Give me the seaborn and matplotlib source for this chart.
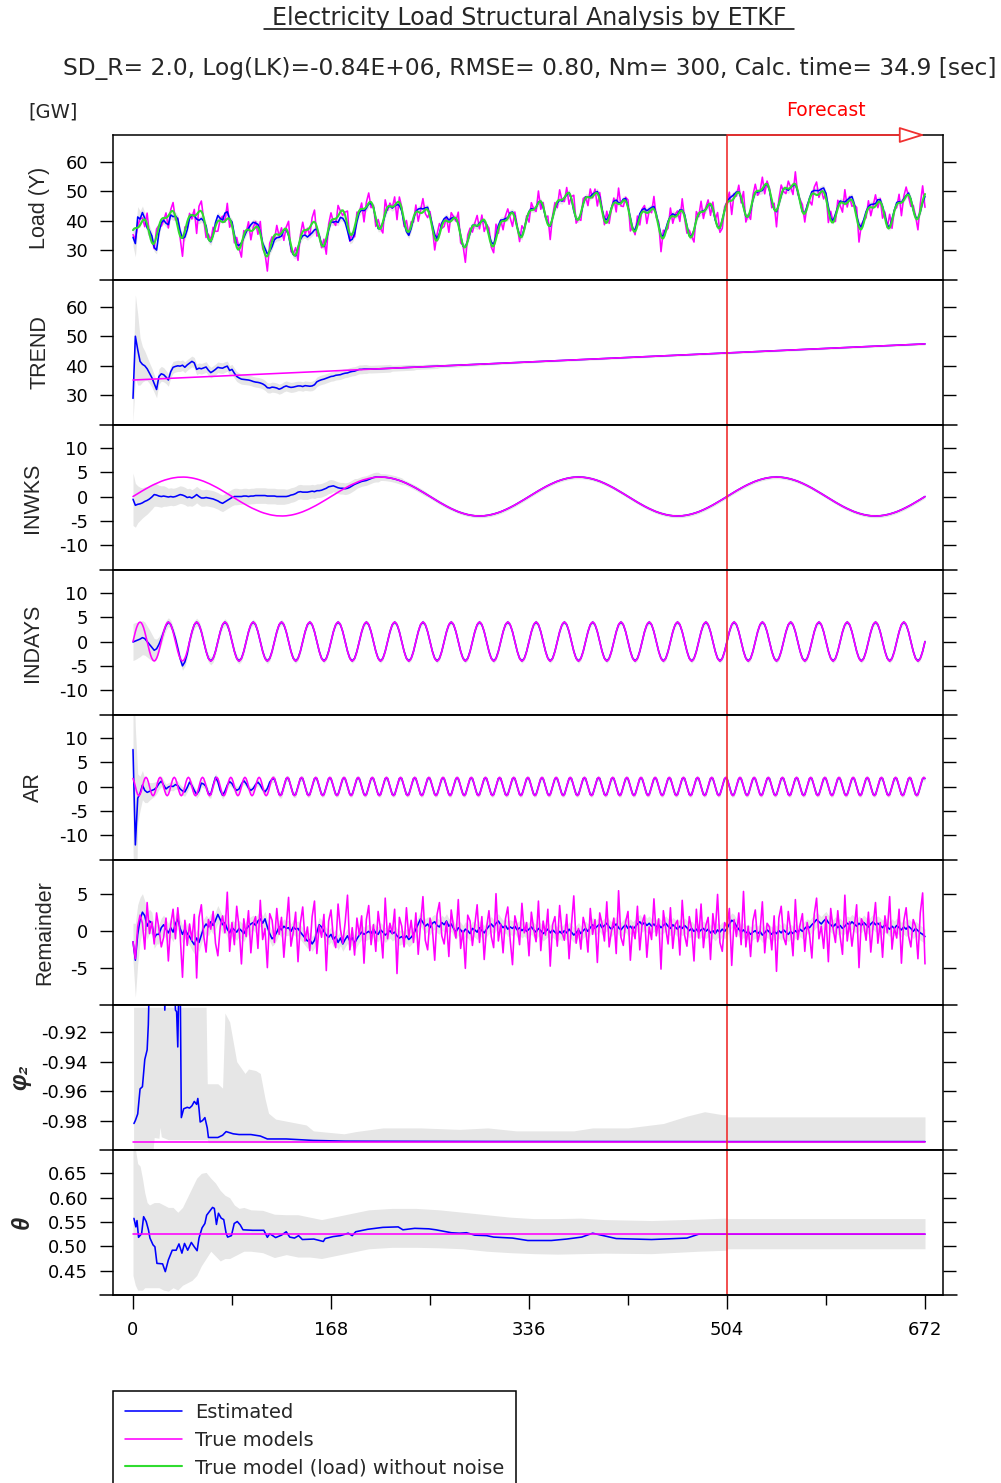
import numpy as np
import matplotlib
matplotlib.use("Agg")
import matplotlib.pyplot as plt
import matplotlib.transforms as mtransforms
from matplotlib.lines import Line2D
import seaborn as sns

# ------------------------------------------------------------------
# Data (hours 0..672, forecast from hour 504)
# ------------------------------------------------------------------
N_HOURS = 672
FORECAST_START = 504
X_TICKS = [0, 168, 336, 504, 672]
X_MINOR_TICKS = [84, 252, 420, 588]

# true model components
TREND_TRUE_START = 35.2
TREND_TRUE_END = 47.4
WEEKLY_TRUE_PERIOD = [
    0.00, 0.15, 0.30, 0.45, 0.60, 0.74, 0.89, 1.04, 1.18, 1.32, 1.46, 1.60, 1.74, 1.87, 2.00, 2.13,
    2.25, 2.38, 2.49, 2.61, 2.72, 2.83, 2.93, 3.03, 3.13, 3.22, 3.30, 3.39, 3.46, 3.54, 3.60, 3.67,
    3.72, 3.78, 3.82, 3.86, 3.90, 3.93, 3.96, 3.97, 3.99, 4.00, 4.00,
    4.00, 3.99, 3.97, 3.96, 3.93, 3.90, 3.86, 3.82, 3.78, 3.72, 3.67, 3.60, 3.54, 3.46, 3.39, 3.30,
    3.22, 3.13, 3.03, 2.93, 2.83, 2.72, 2.61, 2.49, 2.38, 2.25, 2.13, 2.00, 1.87, 1.74, 1.60, 1.46,
    1.32, 1.18, 1.04, 0.89, 0.74, 0.60, 0.45, 0.30, 0.15,
    0.00, -0.15, -0.30, -0.45, -0.60, -0.74, -0.89, -1.04, -1.18, -1.32, -1.46, -1.60, -1.74, -1.87, -2.00, -2.13,
    -2.25, -2.38, -2.49, -2.61, -2.72, -2.83, -2.93, -3.03, -3.13, -3.22, -3.30, -3.39, -3.46, -3.54, -3.60, -3.67,
    -3.72, -3.78, -3.82, -3.86, -3.90, -3.93, -3.96, -3.97, -3.99, -4.00, -4.00,
    -4.00, -3.99, -3.97, -3.96, -3.93, -3.90, -3.86, -3.82, -3.78, -3.72, -3.67, -3.60, -3.54, -3.46, -3.39, -3.30,
    -3.22, -3.13, -3.03, -2.93, -2.83, -2.72, -2.61, -2.49, -2.38, -2.25, -2.13, -2.00, -1.87, -1.74, -1.60, -1.46,
    -1.32, -1.18, -1.04, -0.89, -0.74, -0.60, -0.45, -0.30, -0.15,
]
DAILY_TRUE_PERIOD = [0.00, 1.04, 2.00, 2.83, 3.46, 3.86, 4.00, 3.86, 3.46, 2.83, 2.00, 1.04,
                     0.00, -1.04, -2.00, -2.83, -3.46, -3.86, -4.00, -3.86, -3.46, -2.83, -2.00, -1.04]
AR_TRUE_PERIOD = [1.65, 0.95, 0.00, -0.95, -1.65, -1.90, -1.65, -0.95, 0.00, 0.95, 1.65, 1.90]

# observation noise (true remainder), every 2 hours
REMAINDER_TRUE = [
    -1.5, -3.8, 0.6, 2.1, 1.0, -2.5, 3.8, -0.4, 1.2, -1.8, 2.4, 0.3, -2.2, -0.9, 1.7, -4.1, 0.8, 2.9, -1.1, 3.1, -0.6, -6.3, 1.4, -2.0,
    0.9, -1.3, 2.2, -6.4, 1.8, 3.5, -0.7, -2.9, 1.5, 0.2, 2.6, -1.7, -3.4, 0.5, 2.0, -0.3, 5.2, -2.8, 1.1, -1.9, 3.3, 0.4, -4.5, 1.6,
    -0.8, 2.7, -3.0, 0.9, 1.9, -2.4, 4.1, -1.2, 0.3, -5.0, 2.3, 1.4, -1.6, 3.0, -0.5, 1.8, -3.6, 0.6, 4.5, -2.1, -0.2, 2.5, -4.2, 1.0,
    3.2, -1.4, 0.5, -2.7, 1.9, 4.0, -3.1, 0.7, -0.9, 2.2, -5.4, 1.3, 2.8, -1.0, -2.3, 3.6, 0.2, -1.7, 1.1, 4.8, -2.6, 0.4, -3.3, 1.7,
    -0.6, 2.0, -4.4, 1.5, 3.4, -1.9, 0.8, -2.8, 2.6, 0.1, -3.7, 4.4, -1.1, 1.0, -0.4, 2.9, -5.8, 1.8, 0.6, -2.2, 3.1, -0.9, 1.4, -1.6,
    2.4, -3.2, 0.9, 4.6, -1.3, -2.6, 1.7, 0.3, -4.0, 2.2, 3.8, -0.7, -1.8, 1.2, -3.5, 2.8, 0.5, -1.0, 4.2, -2.4, 0.0, -5.1, 2.1, 1.3,
    -2.0, 0.7, 3.5, -1.6, 1.9, -3.9, 0.4, 2.7, -0.8, -2.3, 5.0, -1.4, 0.9, -3.0, 1.6, 3.2, -1.2, -4.6, 2.0, 0.6, -1.9, 3.7, -0.3, 1.1,
    -3.4, 2.5, 0.2, -1.5, 4.0, -2.7, 1.3, -0.6, 2.9, -4.8, 0.8, 1.9, -2.1, 3.4, -0.2, -1.3, 2.2, -3.8, 0.7, 4.7, -1.7, 0.3, -2.5, 1.8,
    0.4, -2.9, 3.0, -0.5, 1.5, -4.3, 2.4, 0.9, -1.4, 3.9, -2.2, 0.0, 1.7, -3.1, 5.4, -0.9, -2.0, 1.2, 2.6, -4.0, 0.6, -1.1, 3.3, -2.6,
    1.0, 2.1, -3.6, 0.5, -1.2, 4.3, -0.7, 1.6, -5.2, 2.7, 0.3, -1.8, 3.1, -2.4, 0.8, 1.4, -3.3, 4.1, -0.6, -2.1, 1.9, 0.2, -4.1, 2.9,
    -1.0, 3.6, -2.3, 0.7, 1.8, -3.9, 2.3, -0.4, 4.9, -1.6, -2.8, 1.1, 0.4, 3.0, -4.7, 1.5, -0.8, 2.4, -1.9, 5.3, -2.2, 0.6, -3.5, 1.3,
    2.8, -1.5, -0.2, 3.9, -3.0, 1.0, 0.5, -2.6, 2.0, -5.5, 1.7, 3.3, -0.9, -1.9, 2.6, 0.1, -3.4, 4.2, -1.2, 0.8, 2.3, -2.8, 1.1, -0.5,
    -3.7, 2.2, 4.4, -1.1, 0.6, -2.4, 1.9, -4.2, 3.0, 0.3, -1.6, 2.7, -0.8, -3.2, 4.8, -1.4, 1.2, -2.1, 0.5, 3.5, -5.0, 1.6, 0.9, -1.3,
    2.5, -2.9, 0.7, 3.8, -1.7, 1.1, -3.6, 2.0, -0.3, 4.6, -2.5, 0.4, -1.0, 2.9, -4.4, 1.3, 3.1, -0.7, -2.2, 1.5, 0.6, -3.8, 2.4, 5.1,
    -4.5,
]

# estimated components (2-hour grid); early, non-converged parts
TREND_EST_EARLY = [
    29.0, 50.0, 45.5, 41.5, 40.5, 40.0, 39.0, 37.5, 36.0, 34.0, 32.0, 36.4,
    37.3, 37.0, 36.2, 35.2, 38.0, 39.5, 39.8, 40.0, 39.9, 40.2, 39.5, 40.3,
    40.9, 41.5, 41.0, 38.8, 39.2, 39.0, 39.3, 39.6, 38.5, 37.7, 38.2, 38.8,
    39.5, 39.3, 39.2, 39.6, 39.9, 38.4, 38.8, 37.5, 36.4, 35.9, 35.5, 35.4,
    35.3, 35.2, 35.0, 34.7, 34.5, 34.4, 34.2, 33.9, 33.4, 32.6, 32.5, 32.8,
    32.7, 32.5, 32.1, 32.4, 32.9, 33.2, 32.9, 32.7, 32.8, 33.0, 33.2, 33.2,
    33.0, 33.3, 33.2, 33.1, 33.2, 33.6, 34.6, 35.0, 35.3, 35.5, 35.8, 36.1,
    36.4, 36.5, 36.8, 36.9, 37.0, 37.3, 37.5, 37.6, 37.9, 38.1, 38.2, 38.5,
    38.8, 38.8, 38.9, 38.9, 38.9,
]
WEEKLY_EST_EARLY = [
    -0.55, -1.8, -1.6, -1.5, -1.3, -1.0, -0.8, -0.5, -0.1, 0.4, 0.3, 0.1,
    0.0, 0.1, 0.0, -0.1, 0.0, -0.1, 0.0, 0.2, 0.4, 0.3, 0.1, -0.2,
    -0.1, -0.3, 0.0, 0.4, 0.0, -0.3, -0.3, -0.2, -0.3, -0.4, -0.5, -0.7,
    -0.9, -1.2, -1.4, -1.1, -0.8, -0.5, -0.2, 0.0, 0.0, 0.0, 0.0, 0.1,
    0.1, 0.0, 0.1, 0.1, 0.2, 0.2, 0.2, 0.2, 0.2, 0.1, 0.1, 0.1,
    0.1, 0.0, 0.0, 0.0, 0.0, 0.0, 0.1, 0.3, 0.4, 0.6, 0.9, 1.0,
    0.9, 0.9, 0.9, 1.0, 1.1, 1.0, 1.2, 1.2, 1.3, 1.5, 1.7, 2.0,
    2.1, 2.2, 2.0, 1.8, 1.7, 1.7, 1.6, 1.7, 1.9, 2.2, 2.5, 2.7,
    2.9, 3.1, 3.2, 3.3, 3.5, 3.7, 3.9, 4.0,
]
DAILY_EST_EARLY = [-0.1, 0.1, 0.3, 0.5, 0.8, 0.6, 0.0, -0.6, -1.2, -1.8, -1.5, -0.6,
                   0.6, 2.0, 3.3, 4.0, 3.5, 2.2, 0.6, -1.4, -3.5, -5.0, -4.2, -2.5, 0.0]
AR_EST_EARLY = [
    7.6, -12.0, -2.4, -1.4, 0.3, -0.8, -1.2, -1.0, -0.8, -0.6, -0.2, 0.6,
    1.1, 0.3, -0.5, -0.1, 0.1, 0.0, 0.4, 0.2, -0.5, -0.9, -1.1, -0.2,
    0.9, 0.2, -0.8, -1.6, -0.9, 0.7, 0.5, 0.0, -1.5, -1.6, 0.3, 1.9,
    1.0, -0.8, -1.8, -1.0, 0.3, 1.0, 0.6, -0.3, -0.8, -0.5, 0.5, 1.2,
    0.6, -0.3, -0.8, -0.4, 0.4, 0.9, 0.3, -0.6, -1.1, -0.4, 0.9, 1.5,
    1.6,
]
REMAINDER_EST = [
    -1.5, -4.0, -0.5, 1.5, 2.5, 2.0, 0.6, 1.3, 1.0, -1.0, -0.5, -0.5,
    0.4, 0.8, 0.2, -0.3, 0.4, -0.2, 0.9, 1.6, 0.3, -0.5, 0.2, -0.4,
    -0.8, -1.4, -1.9, -1.0, -1.6, -0.6, 0.4, 0.9, 0.5, 1.2, 0.7, 1.4,
    2.2, 1.5, 0.8, 1.1, 0.2, -0.3, 0.4, 0.1, -0.2, 0.3, 0.0, -0.4,
    0.2, 0.6, 0.9, 1.1, 0.7, 1.3, 1.6, 1.0, 1.6, 0.5, -0.4, -1.1,
    -0.8, -0.2, 0.5, 0.1, 0.6, 0.3, 0.4, -0.1, 0.5, 0.2, 0.3, -0.2,
    -0.6, -1.0, -1.4, -1.2, -1.8, -1.3, -0.2, 0.8, 0.5, -0.1, -0.6, -0.9,
    -0.5, -1.2, -0.8, -1.6, -1.0, -1.8, -1.2, -0.7, -1.4, -0.9, -1.7, -1.1,
    -0.6, -0.2, -0.5, -0.3, -0.1, -0.4, 0.2, -0.3, -0.5, 0.1, -0.2, -0.6,
    -0.3, 0.0, -0.4, -0.2, -0.7, -1.0, -0.8, -1.1, -0.7, -1.2, -0.9, -0.5,
    0.2, 0.9, 1.6, 1.1, 0.6, 0.9, 0.4, 1.0, 1.2, 0.7, 0.5, 1.1,
    0.8, 1.3, 0.6, 0.9, 0.3, -0.2, 0.4, 0.1, -0.3, 0.2, 0.0, -0.4,
    0.3, 0.1, -0.2, 0.4, 0.0, -0.3, 0.2, 0.6, 0.9, 0.5, 1.0, 1.3,
    0.8, 0.4, 0.7, 0.2, 0.5, 0.3, 0.6, 0.1, 0.4, 0.0, 0.3, -0.1,
    0.2, 0.5, 0.1, -0.2, 0.3, 0.0, -0.4, -0.1, 0.2, -0.3, 0.1, -0.2,
    -0.5, -0.1, -0.4, 0.0, -0.3, 0.2, -0.2, -0.6, -0.3, 0.1, -0.4, 0.0,
    0.3, -0.1, 0.4, 0.8, 0.3, 0.6, 0.9, 0.4, 0.7, 1.0, 0.5, 0.2,
    0.6, 0.9, 0.4, 0.1, 0.5, 0.8, 0.3, 0.6, 0.2, 0.5, 0.9, 1.2,
    0.8, 1.1, 0.7, 1.0, 0.6, 0.9, 0.5, 0.8, 0.4, 0.7, 1.0, 0.6,
    0.3, 0.8, 0.5, 0.2, 0.6, 0.3, 0.7, 0.4, 0.0, 0.3, -0.1, 0.2,
    -0.2, 0.1, 0.3, -0.1, 0.2, -0.3, 0.0, -0.4, 0.1, -0.2, 0.2, -0.1,
    0.3, 0.9, 1.4, 1.2, 0.6, 0.2, -0.2, 0.1, -0.3, -0.1, -0.5, -0.2,
    0.0, -0.4, -0.1, -0.6, -0.3, 0.1, -0.2, -0.5, -0.1, -0.4, 0.0, -0.3,
    0.1, -0.2, -0.5, -0.1, -0.4, 0.0, -0.3, 0.2, -0.1, 0.3, 0.6, 0.4,
    0.8, 1.1, 1.5, 1.2, 0.9, 1.3, 1.6, 1.1, 0.8, 0.5, 0.9, 0.4,
    0.7, 0.3, 0.6, 1.0, 0.8, 1.2, 0.9, 0.6, 1.0, 0.7, 1.1, 0.8,
    0.5, 0.9, 1.2, 0.8, 1.0, 0.7, 0.4, 0.8, 0.5, 0.2, 0.6, 0.3,
    0.7, 0.4, 0.1, 0.5, 0.2, 0.6, 0.3, -0.1, 0.3, 0.0, -0.3, -0.5,
    -0.8,
]

# half-widths of the grey uncertainty bands: first values every 2 h, then levels held for 20 h
LOAD_BAND_EARLY = [3.0, 4.5, 3.5, 2.8, 2.2, 2.0, 1.8, 1.6, 1.5, 1.4]
LOAD_BAND_LEVELS = [1.3, 1.2, 1.2, 1.1]
TREND_BAND_EARLY = [8.0, 14.0, 12.0, 8.0, 6.0, 5.0, 4.0, 3.5, 3.2, 3.0, 2.8, 2.6, 2.5, 2.4, 2.2, 2.1, 2.0, 2.0, 1.9, 1.9]
TREND_BAND_LEVELS = [1.8, 1.8, 1.7, 1.7, 1.7, 1.6, 1.6, 1.5, 1.3, 1.0, 0.8, 0.6, 0.5, 0.4, 0.35]
WEEKLY_BAND_EARLY = [5.4, 4.5, 3.8, 3.4, 3.1, 3.0, 2.8, 2.6, 2.5, 2.4, 2.3, 2.2, 2.2, 2.1, 2.0]
WEEKLY_BAND_LEVELS = [1.8, 1.7, 1.7, 1.6, 1.6, 1.5, 1.4, 1.2, 1.0, 0.7, 0.5, 0.4, 0.35]
DAILY_BAND_EARLY = [3.8, 3.8, 3.7, 3.6, 3.5, 3.4, 3.2, 3.0, 2.7, 2.4, 2.0, 1.6, 1.3, 1.1, 1.0]
DAILY_BAND_LEVELS = [0.9, 0.8, 0.7, 0.6, 0.55, 0.5, 0.45]
AR_BAND_EARLY = [20.0, 24.0, 5.0, 3.5, 3.0, 2.5, 2.1, 1.8, 1.6, 1.5, 1.3, 1.2, 1.1, 1.0, 1.0]
AR_BAND_LEVELS = [0.9, 0.8, 0.8, 0.7, 0.7, 0.6, 0.5]
REM_BAND_EARLY = [2.5, 5.0, 4.0, 3.0, 2.5, 2.0, 1.8, 1.6, 1.5, 1.4]
REM_BAND_LEVELS = [1.3, 1.2, 1.2, 1.1, 1.0]

# parameter estimates: (hour, value) and (hour, lower, upper)
PHI2_TRUE = -0.9945
PHI2_EST = [(0.8, -0.982), (2, -0.980), (4, -0.9755), (6, -0.9585), (8, -0.957), (10, -0.9385), (12, -0.932),
            (13, -0.915), (14, -0.88), (20, -0.87), (26, -0.88), (27, -0.905), (28, -0.88), (35, -0.88),
            (36, -0.905), (37, -0.906), (38, -0.93), (39, -0.88), (40, -0.88), (41, -0.978), (43, -0.972),
            (46, -0.971), (48, -0.9715), (50, -0.970), (52, -0.967), (54, -0.969), (55, -0.965), (56, -0.972),
            (57, -0.981), (59, -0.980), (61, -0.978), (63, -0.985), (64, -0.9915), (72, -0.9915), (76, -0.990),
            (79, -0.9875), (81, -0.988), (85, -0.989), (90, -0.9895), (100, -0.9895), (108, -0.9905),
            (114, -0.9925), (130, -0.9925), (153, -0.9935), (180, -0.994), (300, -0.9942), (504, -0.9943),
            (672, -0.9943)]
PHI2_BAND = [(0.5, -1.0, -0.903), (17, -1.0, -0.903), (18, -0.9915, -0.903), (22, -0.992, -0.903),
             (23, -0.9845, -0.903), (24, -0.991, -0.903), (30, -0.993, -0.903), (62, -0.993, -0.903),
             (63, -0.993, -0.955), (64, -0.995, -0.955), (72, -0.995, -0.955), (76, -0.995, -0.958),
             (78, -0.995, -0.907), (80, -0.995, -0.910), (82, -0.995, -0.913), (88, -0.995, -0.94),
             (95, -0.995, -0.948), (98, -0.995, -0.945), (104, -0.995, -0.946), (108, -0.995, -0.948),
             (112, -0.995, -0.965), (115, -0.995, -0.975), (121, -0.995, -0.979), (134, -0.995, -0.981),
             (147, -0.995, -0.983), (153, -0.995, -0.987), (179, -0.995, -0.989), (189, -0.995, -0.9875),
             (212, -0.995, -0.985), (244, -0.995, -0.985), (277, -0.995, -0.986), (301, -0.995, -0.985),
             (325, -0.995, -0.987), (374, -0.995, -0.987), (390, -0.995, -0.985), (420, -0.995, -0.985),
             (450, -0.995, -0.982), (470, -0.995, -0.977), (485, -0.995, -0.974), (500, -0.995, -0.976),
             (503.9, -0.995, -0.976), (504, -0.995, -0.9775), (672, -0.995, -0.9775)]

THETA_TRUE = 0.525
THETA_EST = [(0.8, 0.5575), (2.4, 0.540), (3.4, 0.553), (4.7, 0.5185), (7.3, 0.526), (9, 0.561), (11.2, 0.551),
             (13.1, 0.534), (14.4, 0.517), (17, 0.503), (18.6, 0.499), (20.3, 0.465), (25.1, 0.464), (27.4, 0.448),
             (30, 0.472), (33.3, 0.492), (36.6, 0.492), (39, 0.505), (41.5, 0.486), (43.7, 0.506), (46.4, 0.492),
             (49.5, 0.508), (52, 0.499), (54.4, 0.491), (56, 0.517), (58.6, 0.538), (61, 0.547), (62.5, 0.564),
             (65, 0.572), (67.5, 0.580), (69, 0.578), (70.8, 0.545), (72.5, 0.568), (74.8, 0.558), (77, 0.555),
             (79, 0.527), (80.3, 0.519), (83.5, 0.522), (85.9, 0.547), (88.5, 0.551), (91, 0.544), (93.3, 0.534),
             (101.5, 0.533), (111, 0.533), (114, 0.5185), (116, 0.526), (121, 0.518), (126, 0.523), (130, 0.530),
             (133, 0.519), (137, 0.517), (140.5, 0.522), (143.7, 0.514), (153.4, 0.515), (161.5, 0.510),
             (163, 0.516), (169.7, 0.520), (175.9, 0.522), (182.6, 0.527), (186, 0.522), (189, 0.530),
             (199, 0.535), (212, 0.539), (225, 0.540), (229, 0.534), (239, 0.537), (251, 0.536), (257, 0.534),
             (270, 0.528), (277, 0.527), (283, 0.528), (290, 0.523), (300, 0.522), (306, 0.519), (322, 0.517),
             (335, 0.512), (355, 0.512), (368, 0.515), (380.7, 0.519), (390, 0.527), (410, 0.516), (440, 0.514),
             (470, 0.517), (480, 0.525), (504, 0.525), (672, 0.525)]
THETA_BAND = [(0, 0.44, 0.70), (2, 0.42, 0.70), (4, 0.41, 0.67), (6, 0.41, 0.665), (8, 0.41, 0.64),
              (10, 0.415, 0.61), (12, 0.415, 0.59), (14, 0.415, 0.585), (18, 0.415, 0.59), (22, 0.415, 0.59),
              (26, 0.41, 0.585), (30, 0.408, 0.58), (34, 0.415, 0.58), (38, 0.41, 0.57), (42, 0.42, 0.58),
              (46, 0.425, 0.60), (50, 0.43, 0.62), (54, 0.44, 0.64), (58, 0.46, 0.65), (62, 0.475, 0.652),
              (66, 0.49, 0.64), (70, 0.48, 0.63), (74, 0.47, 0.615), (78, 0.475, 0.605), (82, 0.475, 0.60),
              (86, 0.48, 0.585), (90, 0.485, 0.578), (94, 0.49, 0.58), (100, 0.49, 0.575), (110, 0.487, 0.574),
              (120, 0.477, 0.566), (130, 0.483, 0.565), (140, 0.478, 0.565), (150, 0.478, 0.56),
              (160, 0.475, 0.555), (170, 0.48, 0.56), (180, 0.485, 0.565), (190, 0.49, 0.57), (200, 0.495, 0.575),
              (220, 0.498, 0.578), (240, 0.498, 0.578), (260, 0.497, 0.575), (280, 0.495, 0.57),
              (300, 0.49, 0.565), (320, 0.487, 0.56), (340, 0.485, 0.557), (360, 0.484, 0.557),
              (380, 0.485, 0.558), (400, 0.486, 0.555), (440, 0.485, 0.553), (480, 0.49, 0.556),
              (503.9, 0.492, 0.558), (504, 0.495, 0.557), (672, 0.495, 0.557)]

PANEL_LABELS = ["Load (Y)", "TREND", "INWKS", "INDAYS", "AR", "Remainder", "φ\u2082", "θ"]
PANEL_YTICKS = [[30, 40, 50, 60], [30, 40, 50, 60], [-10, -5, 0, 5, 10], [-10, -5, 0, 5, 10],
                [-10, -5, 0, 5, 10], [-5, 0, 5], [-0.98, -0.96, -0.94, -0.92], [0.45, 0.50, 0.55, 0.60, 0.65]]
PANEL_YLIMS = [(20, 69), (20, 69), (-15.1, 14.7), (-15.1, 14.7), (-15.1, 14.7), (-10.05, 9.55),
               (-1.0, -0.9015), (0.400, 0.698)]
LEGEND_LABELS = ["Estimated", "True models", "True model (load) without noise"]

TITLE = "Electricity Load Structural Analysis by ETKF"
SUBTITLE = "SD_R= 2.0, Log(LK)=-0.84E+06, RMSE= 0.80, Nm= 300, Calc. time= 34.9 [sec]"

# ------------------------------------------------------------------
# Build series
# ------------------------------------------------------------------
hours = np.arange(N_HOURS + 1)
h2 = hours[::2]
n2 = len(h2)

trend_true = TREND_TRUE_START + (TREND_TRUE_END - TREND_TRUE_START) * hours / N_HOURS
weekly_true = np.resize(np.array(WEEKLY_TRUE_PERIOD), hours.size)
daily_true = np.resize(np.array(DAILY_TRUE_PERIOD), hours.size)
ar_true = np.resize(np.array(AR_TRUE_PERIOD), hours.size)
load_clean = trend_true + weekly_true + daily_true + ar_true
rem_true = np.array(REMAINDER_TRUE)
load_obs = load_clean[::2] + rem_true


def with_early(early, true_full):
    early = np.asarray(early, float)
    return np.concatenate([early, true_full[::2][len(early):]])


trend_est = with_early(TREND_EST_EARLY, trend_true)
weekly_est = with_early(WEEKLY_EST_EARLY, weekly_true)
daily_est = with_early(DAILY_EST_EARLY, daily_true)
ar_est = with_early(AR_EST_EARLY, ar_true)
rem_est = np.array(REMAINDER_EST)
load_est = trend_est + weekly_est + daily_est + ar_est + rem_est


def half_width(early, levels, hold=10, n=n2):
    w = np.concatenate([np.asarray(early, float), np.repeat(np.asarray(levels, float), hold)])
    if len(w) < n:
        w = np.concatenate([w, np.full(n - len(w), w[-1])])
    return w[:n]


# ------------------------------------------------------------------
# Figure
# ------------------------------------------------------------------
BLUE = "#0000ff"
MAGENTA = "#ff00ff"
GREEN = "#30dc30"
BAND = "#e6e6e6"
RED = "#f03030"

sns.set_theme(style="white")
plt.rcParams["font.family"] = ["DejaVu Sans"]
plt.rcParams["axes.unicode_minus"] = False
LABEL_FONT = ["Liberation Sans", "DejaVu Sans"]

W, H = 1001, 1483
fig = plt.figure(figsize=(W / 100, H / 100), dpi=100)
fig.patch.set_facecolor("white")

LEFT, RIGHT, TOP0, PH = 113, 943, 135, 145
XLIM = (-(133 - LEFT) / (792 / 672), N_HOURS + (RIGHT - 925) / (792 / 672))

axes = []
for i in range(8):
    top = TOP0 + PH * i
    ax = fig.add_axes([LEFT / W, 1 - (top + PH) / H, (RIGHT - LEFT) / W, PH / H])
    axes.append(ax)


def line(ax, x, y, color, lw, z):
    sns.lineplot(x=np.asarray(x, float), y=np.asarray(y, float), ax=ax, color=color, linewidth=lw,
                 zorder=z, estimator=None, sort=False, legend=False)


def band(ax, x, lo, hi):
    ax.fill_between(x, lo, hi, color=BAND, linewidth=0, zorder=1)


LW = 1.15
# 1 Load
ax = axes[0]
w = half_width(LOAD_BAND_EARLY, LOAD_BAND_LEVELS)
band(ax, h2, load_est - w, load_est + w)
line(ax, h2, load_obs, MAGENTA, LW, 2)
line(ax, h2, load_est, BLUE, LW, 3)
line(ax, hours, load_clean, GREEN, 1.5, 4)

# 2..6 components
comp = [
    (trend_est, trend_true, TREND_BAND_EARLY, TREND_BAND_LEVELS, hours),
    (weekly_est, weekly_true, WEEKLY_BAND_EARLY, WEEKLY_BAND_LEVELS, hours),
    (daily_est, daily_true, DAILY_BAND_EARLY, DAILY_BAND_LEVELS, hours),
    (ar_est, ar_true, AR_BAND_EARLY, AR_BAND_LEVELS, hours),
    (rem_est, rem_true, REM_BAND_EARLY, REM_BAND_LEVELS, h2),
]
for k, (est, tru, be, bl, xt) in enumerate(comp):
    ax = axes[k + 1]
    w = half_width(be, bl)
    band(ax, h2, est - w, est + w)
    line(ax, h2, est, BLUE, LW, 2)
    line(ax, xt, tru, MAGENTA, LW, 3)

# 7 phi2
ax = axes[6]
bh, blo, bhi = zip(*PHI2_BAND)
band(ax, bh, blo, bhi)
eh, ev = zip(*PHI2_EST)
line(ax, eh, ev, BLUE, LW, 2)
line(ax, [0, N_HOURS], [PHI2_TRUE, PHI2_TRUE], MAGENTA, LW, 3)

# 8 theta
ax = axes[7]
bh, blo, bhi = zip(*THETA_BAND)
band(ax, bh, blo, bhi)
eh, ev = zip(*THETA_EST)
line(ax, eh, ev, BLUE, LW, 2)
line(ax, [0, N_HOURS], [THETA_TRUE, THETA_TRUE], MAGENTA, LW, 3)

# styling
LABEL_X = [40, 40, 33, 33, 33, 45, 20, 22]
for i, ax in enumerate(axes):
    ax.set_xlim(XLIM)
    ax.set_ylim(PANEL_YLIMS[i])
    ax.set_yticks(PANEL_YTICKS[i])
    if i >= 6:
        ax.set_yticklabels([f"{v:.2f}" for v in PANEL_YTICKS[i]])
    else:
        ax.set_yticklabels([f"{v:d}" for v in PANEL_YTICKS[i]])
    ax.set_xlabel("")
    ax.set_ylabel("")
    ax.grid(False)
    ax.set_facecolor("white")
    for sp in ax.spines.values():
        sp.set_visible(True)
        sp.set_color("black")
        sp.set_linewidth(1.1)
        sp.set_zorder(6)
    ax.tick_params(axis="y", which="major", direction="out", length=9.4, width=1.0, color="black",
                   left=True, right=True, labelleft=True, labelright=False, labelsize=13, pad=8.6,
                   labelcolor="black")
    ax.tick_params(axis="x", which="both", bottom=False, top=False, labelbottom=False)
    ax.axvline(FORECAST_START, color=RED, lw=1.2, zorder=5)
    big = i >= 6
    fig.text(LABEL_X[i] / W, 1 - (TOP0 + PH * i + PH / 2) / H, PANEL_LABELS[i], rotation=90,
             ha="center", va="center", fontsize=17 if big else 15.5, family=LABEL_FONT,
             fontweight="bold" if big else "normal", fontstyle="italic" if big else "normal")

axb = axes[-1]
axb.set_xticks(X_TICKS)
axb.set_xticklabels([str(v) for v in X_TICKS])
axb.set_xticks(X_MINOR_TICKS, minor=True)
axb.tick_params(axis="x", which="major", bottom=True, labelbottom=True, direction="out", length=10,
                width=1.0, color="black", labelsize=13, pad=9, labelcolor="black")
axb.tick_params(axis="x", which="minor", bottom=True, direction="out", length=7.2, width=1.0, color="black")

# panel separators extended past the frame
for i in range(1, 9):
    yy = 1 - (TOP0 + PH * i) / H
    fig.add_artist(Line2D([100 / W, 957 / W], [yy, yy], transform=fig.transFigure, color="black", lw=1.1))

# forecast arrow and label
ax0 = axes[0]
ax0.annotate("", xy=(N_HOURS, 1.0), xycoords=("data", "axes fraction"),
             xytext=(FORECAST_START, 1.0), textcoords=("data", "axes fraction"),
             arrowprops=dict(arrowstyle="-|>,head_length=0.8,head_width=0.25", ec=RED, fc="white", lw=1.3,
                             mutation_scale=20, shrinkA=0, shrinkB=0),
             annotation_clip=False, zorder=7)
trans = mtransforms.blended_transform_factory(ax0.transData, ax0.transAxes)
ax0.text((FORECAST_START + N_HOURS) / 2, 1 + 25 / PH, "Forecast", color="red", ha="center", va="center",
         fontsize=13.5, transform=trans)

# titles
t = fig.text(529 / W, 1 - 18 / H, TITLE, ha="center", va="center", fontsize=17)
fig.text(530 / W, 1 - 68 / H, SUBTITLE, ha="center", va="center", fontsize=16.8)
fig.text(28 / W, 1 - 112 / H, "[GW]", ha="left", va="center", fontsize=14)

fig.canvas.draw()
bb = t.get_window_extent()
fig.add_artist(Line2D([(bb.x0 - 8) / W, (bb.x1 + 8) / W], [1 - 29 / H, 1 - 29 / H],
                      transform=fig.transFigure, color="black", lw=1.1))

# legend
handles = [Line2D([], [], color=BLUE, lw=LW), Line2D([], [], color=MAGENTA, lw=LW),
           Line2D([], [], color=GREEN, lw=1.5)]
leg = fig.legend(handles, LEGEND_LABELS, loc="upper left", bbox_to_anchor=(113 / W, 1 - 1391 / H),
                 bbox_transform=fig.transFigure, frameon=True, fancybox=False, edgecolor="black",
                 framealpha=1, fontsize=14, handlelength=2.93, handletextpad=0.67, labelspacing=0.44,
                 borderpad=0.62, borderaxespad=0)
leg.get_frame().set_linewidth(1.1)

fig.savefig("out.png", dpi=100, facecolor="white")
